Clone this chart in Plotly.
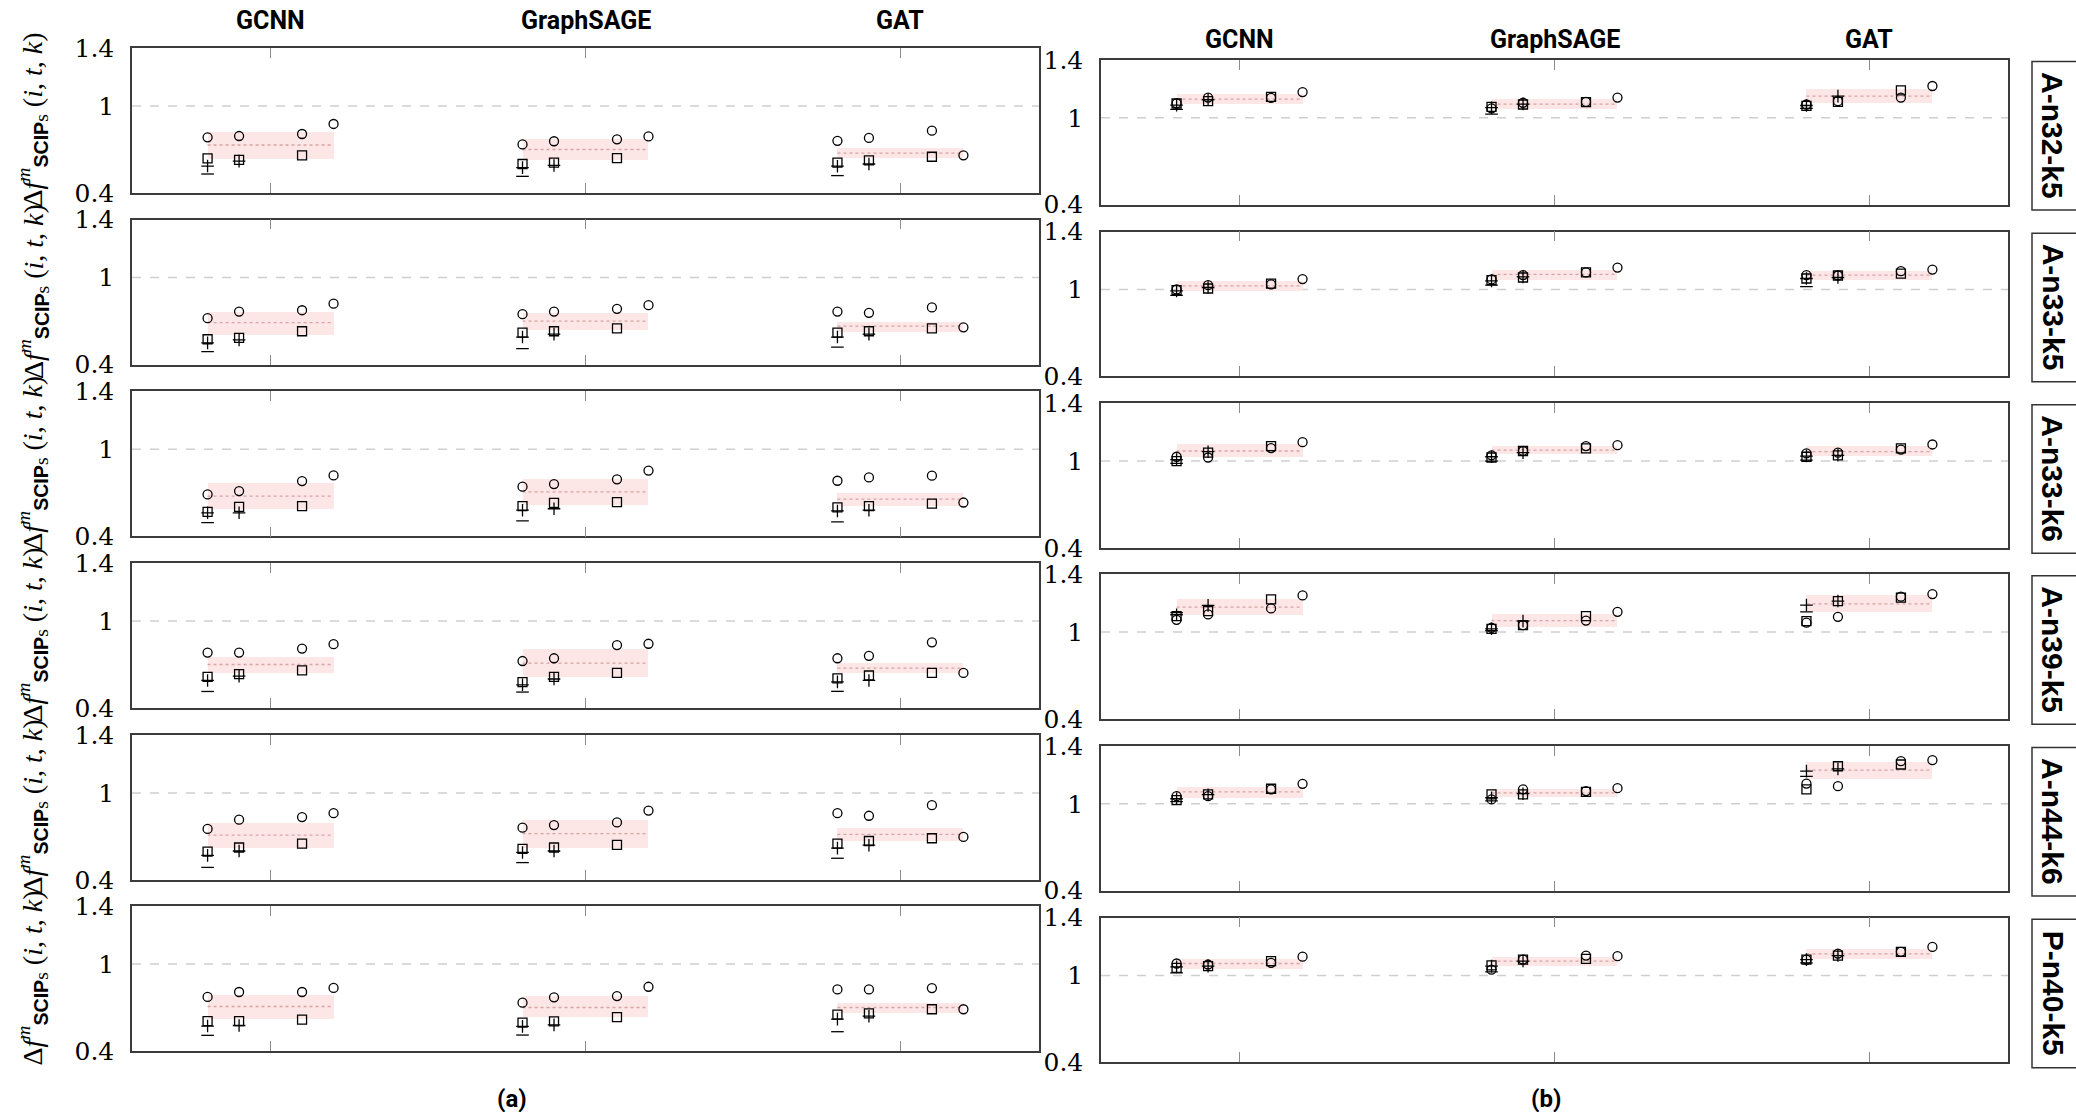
import plotly.graph_objects as go

# ---------------- data ----------------
instances = ["A-n32-k5", "A-n33-k5", "A-n33-k6", "A-n39-k5", "A-n44-k6", "P-n40-k5"]
models = ["GCNN", "GraphSAGE", "GAT"]
y_tick_vals = [0.4, 1, 1.4]
y_tick_text = ["0.4", "1", "1.4"]
panel_labels = ["(a)", "(b)"]

# panel (a): values per instance row -> per model -> four settings
a_circle = [
    [[0.784, 0.793, 0.807, 0.876], [0.735, 0.757, 0.770, 0.790], [0.760, 0.780, 0.830, 0.660]],
    [[0.720, 0.766, 0.775, 0.820], [0.748, 0.766, 0.785, 0.810], [0.766, 0.757, 0.794, 0.657]],
    [[0.689, 0.712, 0.781, 0.820], [0.742, 0.760, 0.793, 0.853], [0.783, 0.806, 0.818, 0.633]],
    [[0.782, 0.782, 0.810, 0.840], [0.724, 0.743, 0.834, 0.843], [0.743, 0.760, 0.853, 0.642]],
    [[0.752, 0.816, 0.834, 0.861], [0.761, 0.779, 0.797, 0.879], [0.861, 0.843, 0.916, 0.697]],
    [[0.773, 0.807, 0.807, 0.835], [0.733, 0.770, 0.779, 0.843], [0.825, 0.825, 0.834, 0.688]],
]
a_square = [
    [[0.639, 0.628, 0.660, None], [0.600, 0.610, 0.640, None], [0.610, 0.625, 0.650, None]],
    [[0.575, 0.584, 0.630, None], [0.620, 0.630, 0.650, None], [0.620, 0.630, 0.650, None]],
    [[0.569, 0.603, 0.608, None], [0.608, 0.631, 0.636, None], [0.599, 0.608, 0.626, None]],
    [[0.615, 0.633, 0.660, None], [0.578, 0.615, 0.642, None], [0.605, 0.624, 0.642, None]],
    [[0.596, 0.624, 0.651, None], [0.615, 0.624, 0.642, None], [0.651, 0.669, 0.688, None]],
    [[0.606, 0.606, 0.617, None], [0.596, 0.605, 0.633, None], [0.651, 0.660, 0.688, None]],
]
a_plus = [
    [[0.586, 0.620, None, None], [0.575, 0.590, None, None], [0.585, 0.600, None, None]],
    [[0.550, 0.570, None, None], [0.590, 0.610, None, None], [0.590, 0.610, None, None]],
    [[0.562, 0.562, None, None], [0.580, 0.590, None, None], [0.575, 0.580, None, None]],
    [[0.590, 0.620, None, None], [0.560, 0.600, None, None], [0.580, 0.590, None, None]],
    [[0.570, 0.600, None, None], [0.590, 0.600, None, None], [0.620, 0.640, None, None]],
    [[0.572, 0.576, None, None], [0.570, 0.580, None, None], [0.620, 0.640, None, None]],
]
a_minus = [
    [[0.531, None, None, None], [0.515, None, None, None], [0.520, None, None, None]],
    [[0.490, None, None, None], [0.510, None, None, None], [0.520, None, None, None]],
    [[0.495, None, None, None], [0.506, None, None, None], [0.500, None, None, None]],
    [[0.514, None, None, None], [0.510, None, None, None], [0.515, None, None, None]],
    [[0.487, None, None, None], [0.520, None, None, None], [0.550, None, None, None]],
    [[0.508, None, None, None], [0.510, None, None, None], [0.533, None, None, None]],
]
a_band_lo = [[0.634, 0.630, 0.640], [0.610, 0.640, 0.630], [0.585, 0.617, 0.608],
             [0.640, 0.615, 0.640], [0.624, 0.624, 0.669], [0.620, 0.633, 0.665]]
a_band_hi = [[0.818, 0.770, 0.710], [0.766, 0.757, 0.700], [0.765, 0.795, 0.696],
             [0.755, 0.807, 0.710], [0.790, 0.816, 0.760], [0.789, 0.780, 0.730]]
a_band_mid = [[0.731, 0.700, 0.675], [0.690, 0.700, 0.665], [0.677, 0.707, 0.656],
              [0.700, 0.710, 0.675], [0.710, 0.720, 0.715], [0.707, 0.700, 0.700]]

# panel (b)
b_circle = [
    [[1.100, 1.140, 1.138, 1.178], [1.065, 1.104, 1.110, 1.140], [1.092, 1.115, 1.140, 1.220]],
    [[1.000, 1.030, 1.035, 1.072], [1.070, 1.100, 1.118, 1.152], [1.100, 1.097, 1.127, 1.138]],
    [[1.030, 1.025, 1.090, 1.131], [1.040, 1.070, 1.104, 1.110], [1.053, 1.058, 1.080, 1.115]],
    [[1.085, 1.122, 1.164, 1.254], [1.030, 1.048, 1.080, 1.140], [1.065, 1.106, 1.245, 1.263]],
    [[1.053, 1.053, 1.100, 1.138], [1.030, 1.100, 1.088, 1.108], [1.140, 1.122, 1.295, 1.302]],
    [[1.083, 1.076, 1.088, 1.130], [1.040, 1.110, 1.138, 1.134], [1.110, 1.152, 1.164, 1.198]],
]
b_square = [
    [[1.099, 1.115, 1.145, None], [1.076, 1.092, 1.108, None], [1.083, 1.110, 1.190, None]],
    [[0.996, 1.007, 1.040, None], [1.065, 1.083, 1.118, None], [1.076, 1.097, 1.110, None]],
    [[1.000, 1.058, 1.104, None], [1.025, 1.070, 1.088, None], [1.030, 1.040, 1.088, None]],
    [[1.110, 1.145, 1.226, None], [1.023, 1.048, 1.110, None], [1.076, 1.215, 1.238, None]],
    [[1.025, 1.065, 1.104, None], [1.065, 1.065, 1.083, None], [1.100, 1.260, 1.272, None]],
    [[1.053, 1.065, 1.100, None], [1.070, 1.110, 1.115, None], [1.110, 1.138, 1.164, None]],
]
b_plus = [
    [[1.088, 1.125, None, None], [1.070, 1.095, None, None], [1.085, 1.150, None, None]],
    [[0.990, 1.014, None, None], [1.060, 1.087, None, None], [1.076, 1.083, None, None]],
    [[1.010, 1.065, None, None], [1.030, 1.058, None, None], [1.035, 1.040, None, None]],
    [[1.120, 1.185, None, None], [1.023, 1.076, None, None], [1.187, 1.215, None, None]],
    [[1.035, 1.063, None, None], [1.042, 1.070, None, None], [1.226, 1.242, None, None]],
    [[1.060, 1.065, None, None], [1.065, 1.100, None, None], [1.110, 1.138, None, None]],
]
b_minus = [
    [[1.058, None, None, None], [1.025, None, None, None], [1.065, None, None, None]],
    [[0.960, None, None, None], [1.030, None, None, None], [1.020, None, None, None]],
    [[0.984, None, None, None], [1.000, None, None, None], [1.007, None, None, None]],
    [[1.135, None, None, None], [1.010, None, None, None], [1.140, None, None, None]],
    [[1.015, None, None, None], [1.020, None, None, None], [1.190, None, None, None]],
    [[1.018, None, None, None], [1.025, None, None, None], [1.088, None, None, None]],
]
b_band_lo = [[1.095, 1.062, 1.104], [0.990, 1.069, 1.070], [1.025, 1.048, 1.030],
             [1.118, 1.035, 1.138], [1.037, 1.046, 1.175], [1.048, 1.065, 1.115]]
b_band_hi = [[1.164, 1.127, 1.196], [1.060, 1.139, 1.130], [1.115, 1.104, 1.100],
             [1.230, 1.122, 1.254], [1.118, 1.104, 1.290], [1.118, 1.127, 1.185]]
b_band_mid = [[1.129, 1.095, 1.150], [1.025, 1.104, 1.100], [1.070, 1.076, 1.065],
              [1.173, 1.080, 1.196], [1.083, 1.076, 1.233], [1.083, 1.100, 1.150]]

# ---------------- layout constants ----------------
W, H = 2076, 1112
offsets = [-0.2, -0.1, 0.1, 0.2]
band_half = 0.2
x_range = [-0.44, 2.44]
panels = [
    dict(left=132, right=1039, tops=[48, 219.6, 391.3, 563, 735, 906], h=145,
         circle=a_circle, square=a_square, plus=a_plus, minus=a_minus,
         lo=a_band_lo, hi=a_band_hi, mid=a_band_mid, title_y=21, label_x=512),
    dict(left=1101, right=2008, tops=[60, 231.7, 403.3, 574.3, 746, 917.7], h=144.5,
         circle=b_circle, square=b_square, plus=b_plus, minus=b_minus,
         lo=b_band_lo, hi=b_band_hi, mid=b_band_mid, title_y=39, label_x=1546),
]


def px(xp):
    return xp / W


def py(yp):
    return 1 - yp / H


marker_specs = [
    ("circle", "circle-open"),
    ("square", "square-open"),
    ("plus", "cross-thin-open"),
    ("minus", "line-ew-open"),
]

ylabel_text = ("Δ<i>f</i><sup><i>m</i></sup>"
               "<sub><span style=\"font-family:'Liberation Sans'\"><b>SCIP</b></span></sub>"
               "<sub>s</sub> (<i>i</i>, <i>t</i>, <i>k</i>)")

fig = go.Figure()
layout = dict(
    width=W, height=H, margin=dict(l=0, r=0, t=0, b=0, autoexpand=False),
    paper_bgcolor="white", plot_bgcolor="white", showlegend=False,
)
annotations = []
shapes = []

for p_i, P in enumerate(panels):
    for r in range(6):
        k = p_i * 6 + r + 1
        xa = "x" if k == 1 else f"x{k}"
        ya = "y" if k == 1 else f"y{k}"
        xkey = "xaxis" if k == 1 else f"xaxis{k}"
        ykey = "yaxis" if k == 1 else f"yaxis{k}"
        top = P["tops"][r]
        layout[xkey] = dict(
            domain=[px(P["left"]), px(P["right"])], range=x_range, anchor=ya,
            tickvals=[0, 1, 2], showticklabels=False, ticks="inside", ticklen=10,
            tickcolor="#8c8c8c", tickwidth=1.3, showline=True, linecolor="#3c3c3c",
            linewidth=1.5, mirror="ticks", showgrid=False, zeroline=False,
        )
        layout[ykey] = dict(
            domain=[py(top + P["h"]), py(top)], range=[0.4, 1.4], anchor=xa,
            tickvals=y_tick_vals, ticktext=y_tick_text, ticks="",
            tickfont=dict(family="DejaVu Serif", size=25, color="black"),
            ticklabelstandoff=11, showline=True, linecolor="#3c3c3c", linewidth=1.5,
            mirror=True, showgrid=False, zeroline=False,
        )
        # reference line at 1
        shapes.append(dict(type="line", xref=f"{xa} domain", yref=ya, x0=0, x1=1, y0=1, y1=1,
                           line=dict(color="#cfcfcf", width=1.5, dash="dash"), layer="below"))
        # band
        lo = P["lo"][r]
        hi = P["hi"][r]
        fig.add_trace(go.Bar(
            x=[0, 1, 2], y=[h - l for h, l in zip(hi, lo)], base=lo, width=2 * band_half,
            marker=dict(color="#fde6e6", line=dict(width=0)), xaxis=xa, yaxis=ya,
            hoverinfo="skip",
        ))
        # mid dotted line
        mx, my = [], []
        for m_i, mv in enumerate(P["mid"][r]):
            mx += [m_i - band_half, m_i + band_half, None]
            my += [mv, mv, None]
        fig.add_trace(go.Scatter(x=mx, y=my, mode="lines", xaxis=xa, yaxis=ya,
                                 line=dict(color="#d8a4a4", width=1.3, dash="dot"),
                                 hoverinfo="skip"))
        # markers
        for key, sym in marker_specs:
            xs, ys = [], []
            for m_i in range(3):
                for s_i, off in enumerate(offsets):
                    v = P[key][r][m_i][s_i]
                    if v is not None:
                        xs.append(m_i + off)
                        ys.append(v)
            fig.add_trace(go.Scatter(
                x=xs, y=ys, mode="markers", xaxis=xa, yaxis=ya, name=key,
                marker=dict(symbol=sym, size=9, color="black",
                            line=dict(color="black", width=1.3)),
            ))
        # left y-axis label for panel (a)
        if p_i == 0:
            annotations.append(dict(
                xref="paper", yref="paper", x=px(33), y=py(top + P["h"] / 2),
                text=ylabel_text, textangle=-90, showarrow=False,
                xanchor="center", yanchor="middle",
                font=dict(family="Liberation Serif", size=28, color="black"),
            ))
        # strip labels for panel (b)
        if p_i == 1:
            shapes.append(dict(type="rect", xref="paper", yref="paper",
                               x0=px(2032), x1=px(2090), y0=py(top + 150), y1=py(top + 1.5),
                               line=dict(color="#333333", width=1.5)))
            annotations.append(dict(
                xref="paper", yref="paper", x=px(2053), y=py(top + 75),
                text=f"<b>{instances[r]}</b>", textangle=90, showarrow=False,
                xanchor="center", yanchor="middle",
                font=dict(family="Liberation Sans", size=30, color="black"),
            ))
    # column titles
    xa_top = "x" if p_i == 0 else "x7"
    for m_i, mname in enumerate(models):
        annotations.append(dict(
            xref=xa_top, yref="paper", x=m_i, y=py(P["title_y"]), text=f"<b>{mname}</b>",
            showarrow=False, xanchor="center", yanchor="middle",
            font=dict(family="Roboto", size=25, color="black"),
        ))
    annotations.append(dict(
        xref="paper", yref="paper", x=px(P["label_x"]), y=py(1099), text=f"<b>{panel_labels[p_i]}</b>",
        showarrow=False, xanchor="center", yanchor="middle",
        font=dict(family="Roboto", size=24, color="black"),
    ))

layout["annotations"] = annotations
layout["shapes"] = shapes
layout["bargap"] = 0
layout["barmode"] = "overlay"
fig.update_layout(**layout)
fig.write_html(
    "out.html",
    config={"displayModeBar": False},
    post_script="document.body.style.margin='0';document.body.style.overflow='hidden';",
)
